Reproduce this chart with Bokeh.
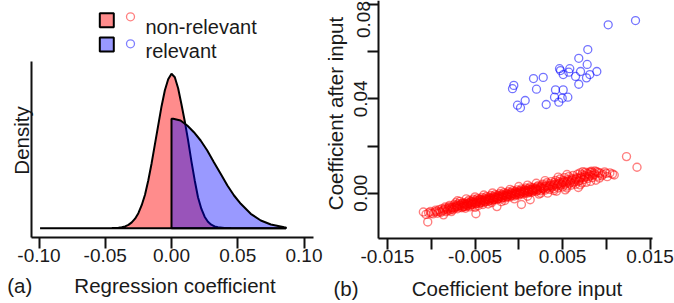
from math import pi
from bokeh.plotting import figure
from bokeh.models import Range1d, FixedTicker, LinearAxis
from bokeh.core.properties import value
from bokeh.embed import file_html
from bokeh.resources import INLINE

FONT = "Liberation Sans"
INK = "#1a1a1a"
W, H = 674, 303

# ---------------- data ----------------
# (a) density curves, heights in arbitrary density units
red_density_x = [-0.0992, -0.045, -0.040, -0.0375, -0.035, -0.0325, -0.030, -0.0275, -0.025,
                 -0.0225, -0.020, -0.0175, -0.015, -0.0125, -0.010, -0.0075, -0.005, -0.0025,
                 0.0, 0.0025, 0.005, 0.0075, 0.010, 0.0125, 0.015, 0.0175, 0.020, 0.0225,
                 0.025, 0.0275, 0.030, 0.0325, 0.035, 0.040, 0.045, 0.0864]
red_density_y = [0.0, 0.1, 0.4, 0.9, 1.8, 3.3, 5.8, 9.5, 15.0,
                 23.0, 33.5, 48.0, 65.0, 84.0, 103.0, 122.0, 138.0, 149.0,
                 154.5, 151.0, 140.0, 124.0, 107.0, 88.0, 67.0, 48.0, 31.0, 19.5,
                 11.5, 6.5, 3.5, 1.8, 0.9, 0.3, 0.1, 0.0]

blue_density_x = [0.0, 0.0, 0.0013, 0.0068, 0.0119, 0.0169, 0.022, 0.027, 0.032, 0.0371,
                  0.0422, 0.0472, 0.0523, 0.0598, 0.0674, 0.075, 0.0851, 0.0864, 0.0864]
blue_density_y = [0.0, 109.5, 109.4, 107.7, 102.7, 96.0, 87.7, 77.7, 66.0, 54.4,
                  42.7, 32.7, 24.4, 14.4, 7.7, 3.7, 1.0, 0.8, 0.0]

# (b) coefficient before input vs after input
blue_points = [
    (0.01333, 0.0732), (0.01021, 0.0714), (0.00788, 0.0609), (0.00685, 0.0572),
    (0.00781, 0.0546), (0.00465, 0.0528), (0.00476, 0.0520), (0.00582, 0.0528),
    (0.00891, 0.0516), (0.00705, 0.0516), (0.00507, 0.0503), (0.00571, 0.0513),
    (0.00648, 0.0495), (0.00773, 0.0489), (0.00811, 0.0503), (0.00279, 0.0491),
    (0.00168, 0.0486), (0.00685, 0.0462), (-0.00057, 0.0457), (-0.00072, 0.0443),
    (0.00202, 0.0441), (0.00419, 0.0438), (0.00507, 0.0438), (0.00408, 0.0407),
    (0.00560, 0.0407), (0.00496, 0.0403), (0.00073, 0.0393), (-0.00015, 0.0373),
    (0.00019, 0.0362), (0.00313, 0.0376), (0.00457, 0.0386),
]

red_points = [
    (-0.0109, -0.0080), (-0.0106, -0.0090), (-0.0104, -0.0122), (-0.0101, -0.0078),
    (-0.0098, -0.0088), (-0.0095, -0.0072), (-0.0093, -0.0085), (-0.0090, -0.0078),
    (-0.0088, -0.0066), (-0.0086, -0.0092),
    (-0.0085, -0.0070), (-0.0084, -0.0058), (-0.0083, -0.0079),
    (-0.0080, -0.0065), (-0.0079, -0.0052), (-0.0081, -0.0074), (-0.0078, -0.0060),
    (-0.0076, -0.0061), (-0.0074, -0.0049), (-0.0075, -0.0070), (-0.0073, -0.0056), (-0.0077, -0.0078),
    (-0.0071, -0.0058), (-0.0069, -0.0045), (-0.0070, -0.0066), (-0.0068, -0.0052), (-0.0072, -0.0040),
    (-0.0066, -0.0053), (-0.0064, -0.0041), (-0.0065, -0.0062), (-0.0063, -0.0048), (-0.0067, -0.0035),
    (-0.0062, -0.0057),
    (-0.0061, -0.0049), (-0.0059, -0.0037), (-0.0060, -0.0056), (-0.0058, -0.0044), (-0.0057, -0.0030),
    (-0.0061, -0.0064),
    (-0.0056, -0.0045), (-0.0054, -0.0033), (-0.0055, -0.0051), (-0.0053, -0.0040), (-0.0052, -0.0026),
    (-0.0056, -0.0058),
    (-0.0051, -0.0041), (-0.0049, -0.0029), (-0.0050, -0.0047), (-0.0048, -0.0036), (-0.0047, -0.0022),
    (-0.0050, -0.0060), (-0.0049, -0.0087),
    (-0.0046, -0.0037), (-0.0044, -0.0025), (-0.0045, -0.0044), (-0.0043, -0.0031), (-0.0042, -0.0018),
    (-0.0046, -0.0052),
    (-0.0041, -0.0033), (-0.0039, -0.0021), (-0.0040, -0.0040), (-0.0038, -0.0027), (-0.0037, -0.0014),
    (-0.0041, -0.0048),
    (-0.0036, -0.0029), (-0.0034, -0.0017), (-0.0035, -0.0036), (-0.0033, -0.0022), (-0.0032, -0.0010),
    (-0.0031, -0.0025), (-0.0029, -0.0013), (-0.0030, -0.0032), (-0.0028, -0.0018), (-0.0027, -0.0006),
    (-0.0031, -0.0040),
    (-0.0026, -0.0021), (-0.0024, -0.0009), (-0.0025, -0.0028), (-0.0023, -0.0014), (-0.0022, -0.0002),
    (-0.0025, -0.0057),
    (-0.0021, -0.0017), (-0.0019, -0.0005), (-0.0020, -0.0024), (-0.0018, -0.0010), (-0.0017, 0.0002),
    (-0.0016, -0.0013), (-0.0014, -0.0001), (-0.0015, -0.0020), (-0.0013, -0.0006), (-0.0012, 0.0006),
    (-0.0016, -0.0031),
    (-0.0011, -0.0009), (-0.0009, 0.0003), (-0.0010, -0.0016), (-0.0008, -0.0002), (-0.0007, 0.0010),
    (-0.0006, -0.0005), (-0.0004, 0.0007), (-0.0005, -0.0012), (-0.0003, 0.0002), (-0.0002, 0.0014),
    (-0.0001, -0.0001), (0.0001, 0.0011), (0.0000, -0.0008), (0.0002, 0.0006), (0.0003, 0.0018),
    (0.0003, -0.0048),
    (0.0004, 0.0003), (0.0006, 0.0015), (0.0005, -0.0004), (0.0007, 0.0010), (0.0008, 0.0022),
    (0.0009, 0.0007), (0.0011, 0.0019), (0.0010, 0.0000), (0.0012, 0.0014), (0.0013, -0.0028),
    (0.0013, 0.0026),
    (0.0014, 0.0011), (0.0016, 0.0023), (0.0015, 0.0004), (0.0017, 0.0018),
    (0.0019, 0.0015), (0.0021, 0.0027), (0.0020, 0.0007), (0.0022, 0.0032), (0.0023, -0.0004),
    (0.0024, 0.0019), (0.0026, 0.0031), (0.0025, 0.0010), (0.0027, 0.0038),
    (0.0029, 0.0022), (0.0031, 0.0035), (0.0030, 0.0013), (0.0032, 0.0044), (0.0033, 0.0000),
    (0.0034, 0.0026), (0.0036, 0.0040), (0.0035, 0.0016), (0.0037, 0.0049),
    (0.0039, 0.0030), (0.0041, 0.0045), (0.0040, 0.0019), (0.0042, 0.0054), (0.0043, 0.0008),
    (0.0044, 0.0034), (0.0046, 0.0049), (0.0045, 0.0022), (0.0047, 0.0060),
    (0.0049, 0.0038), (0.0051, 0.0054), (0.0050, 0.0026), (0.0052, 0.0066), (0.0053, 0.0014),
    (0.0054, 0.0042), (0.0056, 0.0058), (0.0055, 0.0030), (0.0057, 0.0070),
    (0.0059, 0.0046), (0.0061, 0.0062), (0.0060, 0.0034), (0.0062, 0.0075),
    (0.0064, 0.0050), (0.0066, 0.0066), (0.0065, 0.0038), (0.0067, 0.0080), (0.0068, 0.0024),
    (0.0069, 0.0054), (0.0071, 0.0070), (0.0070, 0.0086), (0.0072, 0.0043), (0.0073, 0.0091),
    (0.0074, 0.0058), (0.0076, 0.0089), (0.0075, 0.0075), (0.0077, 0.0046),
    (0.0079, 0.0062), (0.0081, 0.0090), (0.0080, 0.0080), (0.0082, 0.0050), (0.0083, 0.0093),
    (0.0084, 0.0066), (0.0086, 0.0085), (0.0087, 0.0094), (0.0088, 0.0055),
    (0.0090, 0.0072), (0.0091, 0.0088), (0.0092, 0.0064),
    (0.0096, 0.0080), (0.0098, 0.0090), (0.0101, 0.0070), (0.0104, 0.0086), (0.0107, 0.0081),
    (0.0109, 0.0077),
    (0.0123, 0.0155), (0.0135, 0.0110),
    # denser core of the band
    (-0.0103, -0.0083), (-0.0096, -0.0080), (-0.0091, -0.0070), (-0.0087, -0.0075),
    (-0.0082, -0.0068), (-0.0078, -0.0071), (-0.0074, -0.0064), (-0.0071, -0.0050),
    (-0.0068, -0.0060), (-0.0065, -0.0044), (-0.0063, -0.0055), (-0.0060, -0.0046),
    (-0.0058, -0.0052), (-0.0055, -0.0037), (-0.0053, -0.0048), (-0.0050, -0.0039),
    (-0.0048, -0.0043), (-0.0045, -0.0028), (-0.0043, -0.0040), (-0.0040, -0.0031),
    (-0.0038, -0.0036), (-0.0035, -0.0026), (-0.0033, -0.0030), (-0.0030, -0.0021),
    (-0.0028, -0.0027), (-0.0025, -0.0017), (-0.0023, -0.0022), (-0.0020, -0.0013),
    (-0.0018, -0.0019), (-0.0015, -0.0009), (-0.0013, -0.0015), (-0.0010, -0.0005),
    (-0.0008, -0.0011), (-0.0005, -0.0001), (-0.0003, -0.0007), (0.0000, 0.0003),
    (0.0002, -0.0003), (0.0005, 0.0007), (0.0007, 0.0001), (0.0010, 0.0011),
    (0.0012, 0.0005), (0.0015, 0.0015), (0.0017, 0.0009), (0.0020, 0.0019),
    (0.0022, 0.0013), (0.0025, 0.0023), (0.0028, 0.0017), (0.0030, 0.0028),
    (0.0033, 0.0021), (0.0035, 0.0032), (0.0038, 0.0025), (0.0040, 0.0036),
    (0.0043, 0.0029), (0.0045, 0.0040), (0.0048, 0.0033), (0.0050, 0.0046),
    (0.0053, 0.0037), (0.0055, 0.0050), (0.0058, 0.0041), (0.0060, 0.0055),
    (0.0063, 0.0045), (0.0065, 0.0059), (0.0068, 0.0049), (0.0070, 0.0063),
    (0.0072, 0.0079), (0.0075, 0.0067), (0.0078, 0.0084), (0.0080, 0.0071),
    (0.0083, 0.0088), (0.0085, 0.0076), (0.0089, 0.0091), (0.0093, 0.0085),
    (0.0095, 0.0074), (0.0100, 0.0084),
    (-0.0100, -0.0085), (-0.0094, -0.0077), (-0.0089, -0.0082), (-0.0084, -0.0064),
    (-0.0080, -0.0058), (-0.0077, -0.0066), (-0.0073, -0.0061), (-0.0070, -0.0055),
    (-0.0067, -0.0049), (-0.0064, -0.0058), (-0.0062, -0.0043), (-0.0059, -0.0050),
    (-0.0057, -0.0041), (-0.0054, -0.0047), (-0.0052, -0.0035), (-0.0049, -0.0044),
    (-0.0047, -0.0032), (-0.0044, -0.0038), (-0.0042, -0.0027), (-0.0039, -0.0034),
    (-0.0037, -0.0024), (-0.0034, -0.0031), (-0.0032, -0.0020), (-0.0029, -0.0027),
    (-0.0027, -0.0016), (-0.0024, -0.0023), (-0.0022, -0.0011), (-0.0019, -0.0018),
    (-0.0017, -0.0008), (-0.0014, -0.0014), (-0.0012, -0.0003), (-0.0009, -0.0010),
    (-0.0007, 0.0001), (-0.0004, -0.0006), (-0.0002, 0.0005), (0.0001, -0.0002),
    (0.0003, 0.0009), (0.0006, 0.0003), (0.0008, 0.0013), (0.0011, 0.0006),
    (0.0014, 0.0017), (0.0016, 0.0010), (0.0019, 0.0022), (0.0021, 0.0014),
    (0.0024, 0.0026), (0.0027, 0.0020), (0.0032, 0.0030), (0.0037, 0.0034),
    (0.0042, 0.0038), (0.0047, 0.0043), (0.0052, 0.0048), (0.0057, 0.0052),
    (0.0062, 0.0057), (0.0067, 0.0062), (0.0072, 0.0066), (0.0077, 0.0070),
    (0.0082, 0.0075), (0.0087, 0.0079),
    # upper and lower edges of the band
    (-0.0010, 0.0016), (0.0000, 0.0028), (0.0010, 0.0034), (-0.0020, 0.0008),
    (-0.0030, 0.0001), (-0.0040, -0.0008), (-0.0050, -0.0016), (-0.0060, -0.0024),
    (-0.0070, -0.0032), (0.0020, 0.0042), (0.0030, 0.0053), (0.0045, 0.0068),
    (0.0055, 0.0079), (-0.0035, -0.0046), (-0.0020, -0.0036), (-0.0005, -0.0024),
    (0.0010, -0.0013), (0.0025, 0.0000), (0.0040, 0.0011), (0.0055, 0.0022),
    (0.0070, 0.0035),
]

blue_before = [p[0] for p in blue_points]
blue_after = [p[1] for p in blue_points]
red_before = [p[0] for p in red_points]
red_after = [p[1] for p in red_points]

a_ticks = [-0.10, -0.05, 0.0, 0.05, 0.10]
a_tick_labels = ["-0.10", "-0.05", "0.00", "0.05", "0.10"]
b_x_ticks = [-0.015, -0.010, -0.005, 0.0, 0.005, 0.010, 0.015]
b_x_tick_labels = ["-0.015", "", "-0.005", "", "0.005", "", "0.015"]
b_y_ticks = [0.0, 0.02, 0.04, 0.06, 0.08]
b_y_tick_labels = ["0.00", "", "0.04", "", "0.08"]
legend_names = ["non-relevant", "relevant"]

RED_FILL_ALPHA = 0.45
BLUE_FILL_ALPHA = 0.40

# ---------------- layout geometry (page pixels) ----------------
# panel (a) frame: x 31..313, y 61..237 ; zero of density at y 227.7 ; 1325 px per unit
# panel (b) frame: x 378..652, y 0..238 ; zero at (518.3, 192.67) ; 8756 px/unit in x, 2358 px/unit in y
A_X0, A_XK = 171.0, 1325.0
A_Y0 = 227.7
B_X0, B_XK = 518.3, 8756.0
B_Y0, B_YK = 192.67, 2358.0


def Y(py):
    """page y (downward) -> default y coordinate (upward)."""
    return H - py


p = figure(width=W, height=H, x_range=Range1d(0, W), y_range=Range1d(0, H),
           output_backend="svg", toolbar_location=None,
           x_axis_location=None, y_axis_location=None, min_border=0)
p.outline_line_color = None
p.grid.visible = False
p.background_fill_color = "white"

p.extra_x_ranges = {
    "ax": Range1d(-A_X0 / A_XK, (W - A_X0) / A_XK),
    "bx": Range1d(-B_X0 / B_XK, (W - B_X0) / B_XK),
}
p.extra_y_ranges = {
    "ay": Range1d(A_Y0 - H, A_Y0),
    "by": Range1d((B_Y0 - H) / B_YK, B_Y0 / B_YK),
}


def style_axis(ax, tick_out):
    ax.axis_line_width = 2
    ax.axis_line_color = "#111111"
    ax.major_tick_line_width = 2
    ax.major_tick_line_color = "#111111"
    ax.major_tick_out = tick_out
    ax.major_tick_in = 0
    ax.minor_tick_line_color = None
    ax.major_label_text_font = FONT
    ax.major_label_text_font_size = "19px"
    ax.major_label_text_color = INK


# ---------------- panel (a): densities ----------------
p.patch(red_density_x, red_density_y, x_range_name="ax", y_range_name="ay",
        fill_color="red", fill_alpha=RED_FILL_ALPHA, line_color="black", line_width=2)
p.patch(blue_density_x, blue_density_y, x_range_name="ax", y_range_name="ay",
        fill_color="blue", fill_alpha=BLUE_FILL_ALPHA, line_color="black", line_width=2)

ax_a = LinearAxis(x_range_name="ax", fixed_location=Y(237),
                  bounds=((31 - A_X0) / A_XK, (313 - A_X0) / A_XK),
                  ticker=FixedTicker(ticks=a_ticks),
                  major_label_overrides=dict(zip(a_ticks, a_tick_labels)),
                  major_label_standoff=0)
style_axis(ax_a, 11)
p.add_layout(ax_a, "below")

ay_a = LinearAxis(y_range_name="ay", fixed_location=31,
                  bounds=(A_Y0 - 237, A_Y0 - 61), ticker=FixedTicker(ticks=[]))
style_axis(ay_a, 0)
p.add_layout(ay_a, "left")

# ---------------- panel (b): scatter ----------------
p.scatter(red_before, red_after, x_range_name="bx", y_range_name="by", marker="circle", size=8,
          fill_color=None, line_color="red", line_alpha=0.5, line_width=1.4)
p.scatter(blue_before, blue_after, x_range_name="bx", y_range_name="by", marker="circle", size=8,
          fill_color=None, line_color="blue", line_alpha=0.55, line_width=1.3)

ax_b = LinearAxis(x_range_name="bx", fixed_location=Y(237.5),
                  bounds=((378 - B_X0) / B_XK, (652 - B_X0) / B_XK),
                  ticker=FixedTicker(ticks=b_x_ticks),
                  major_label_overrides=dict(zip(b_x_ticks, b_x_tick_labels)),
                  major_label_standoff=1)
style_axis(ax_b, 11)
p.add_layout(ax_b, "below")

# the top tick label ("0.08") sits lower than its tick in the reference; it is written separately below
y_over = dict(zip(b_y_ticks, b_y_tick_labels))
y_over[0.08] = ""
ay_b = LinearAxis(y_range_name="by", fixed_location=378,
                  bounds=((B_Y0 - 238) / B_YK, B_Y0 / B_YK),
                  ticker=FixedTicker(ticks=b_y_ticks), major_label_overrides=y_over,
                  major_label_orientation="vertical", major_label_standoff=0)
style_axis(ay_b, 11)
p.add_layout(ay_b, "left")

# ---------------- texts ----------------
TXT = dict(text_font=value(FONT), text_color=INK, text_baseline="alphabetic")
p.text(x=[6.7, 174.5], y=[Y(285), Y(285)], text=["(a)", "Regression coefficient"],
       text_align=["left", "center"], text_font_size="20.5px", **TXT)
p.text(x=[333, 516.5], y=[Y(288.3), Y(288.3)], text=["(b)", "Coefficient before input"],
       text_align=["left", "center"], text_font_size="20.5px", **TXT)
p.text(x=[21.4], y=[Y(140)], text=["Density"], angle=pi / 2, text_align="center",
       text_font_size="20.5px", **TXT)
p.text(x=[334.8], y=[Y(113)], text=["Coefficient after input"], angle=pi / 2, text_align="center",
       text_font_size="20.5px", **TXT)
p.text(x=[362.5], y=[Y(19)], text=[b_y_tick_labels[-1]], angle=pi / 2, text_align="center",
       text_font_size="19px", **TXT)

# ---------------- legend ----------------
p.scatter(x=[106.3, 106.3], y=[Y(19.7), Y(43.9)], marker="square", size=14,
          fill_color=["red", "blue"], fill_alpha=[RED_FILL_ALPHA, BLUE_FILL_ALPHA],
          line_color="black", line_width=2)
p.scatter(x=[130, 130], y=[Y(16.3), Y(43.3)], marker="circle", size=8, fill_color=None,
          line_color=["red", "blue"], line_alpha=0.5, line_width=1.3)
p.text(x=[145, 145], y=[Y(26), Y(50.7)], text=legend_names, text_font_size="20px", **TXT)

open("out.html", "w").write(file_html(p, INLINE))
